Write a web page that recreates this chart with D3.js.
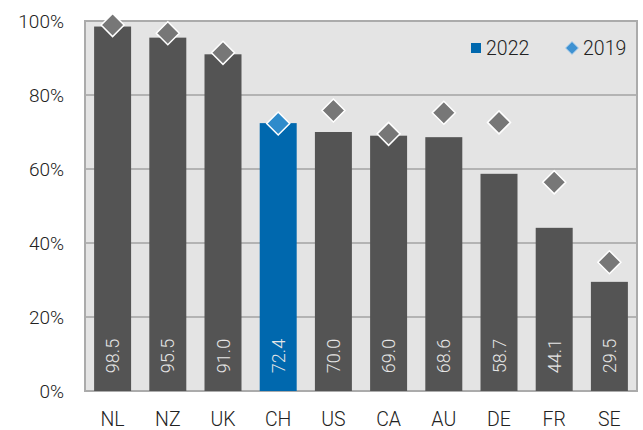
<!DOCTYPE html>
<html><head><meta charset="utf-8">
<script src="https://cdn.jsdelivr.net/npm/d3@7"></script>
<style>
html,body{margin:0;padding:0;background:#fff;}
svg text{font-family:Roboto,"Noto Sans",sans-serif;}
</style></head>
<body><svg id="c" width="643" height="430"></svg>
<script>
const categories = ["NL","NZ","UK","CH","US","CA","AU","DE","FR","SE"];
const values2022 = [98.5,95.5,91.0,72.4,70.0,69.0,68.6,58.7,44.1,29.5];
const values2019 = [98.9,96.7,91.4,72.3,75.8,69.5,75.2,72.6,56.4,34.8];
const highlight = "CH";
const yTicks = [0,20,40,60,80,100];
const seriesNames = ["2022","2019"];

const svg = d3.select("#c");
const L = 85, R = 637, T = 21, B = 391;
const x = d3.scaleBand().domain(categories).range([L,R]).paddingInner(0.33).paddingOuter(0.165);
const y = d3.scaleLinear().domain([0,100]).range([B,T]);

svg.append("rect").attr("x",L).attr("y",T).attr("width",R-L).attr("height",B-T).attr("fill","#e4e4e4");

svg.append("g").selectAll("line").data(yTicks.filter(d=>d>0&&d<100)).join("line")
  .attr("x1",L).attr("x2",R).attr("y1",d=>y(d)).attr("y2",d=>y(d))
  .attr("stroke","#b3b3b3").attr("stroke-width",2);

svg.append("rect").attr("x",L).attr("y",T).attr("width",R-L).attr("height",B-T)
  .attr("fill","none").attr("stroke","#ababab").attr("stroke-width",2);

// bars
svg.append("g").selectAll("rect").data(categories).join("rect")
  .attr("x",d=>x(d)).attr("width",x.bandwidth())
  .attr("y",(d,i)=>y(values2022[i])).attr("height",(d,i)=>y(0)-y(values2022[i]))
  .attr("fill",d=>d===highlight?"#0068ae":"#545454");

// value labels
svg.append("g").selectAll("text").data(categories).join("text")
  .attr("transform",d=>`translate(${x(d)+x.bandwidth()/2+6.5},${y(0)-35}) rotate(-90)`)
  .attr("text-anchor","middle").attr("font-size",18).attr("font-weight",300)
  .attr("fill","#e6e6e6")
  .text((d,i)=>values2022[i].toFixed(1));

// diamonds
const dm = (s)=>`M0,${-s}L${s},0L0,${s}L${-s},0Z`;
svg.append("g").selectAll("path").data(categories).join("path")
  .attr("transform",(d,i)=>`translate(${x(d)+x.bandwidth()/2},${y(values2019[i])})`)
  .attr("d",dm(11.5))
  .attr("fill",d=>d===highlight?"#2e8bcb":"#777777")
  .attr("stroke","#ffffff").attr("stroke-width",1.5);

// y axis labels
svg.append("g").selectAll("text").data(yTicks).join("text")
  .attr("x",64).attr("y",d=>y(d)+7).attr("text-anchor","end")
  .attr("font-size",19).attr("font-weight",300).attr("fill","#222")
  .text(d=>d+"%");

// x labels
svg.append("g").selectAll("text").data(categories).join("text")
  .attr("x",d=>x(d)+x.bandwidth()/2).attr("y",425.5).attr("text-anchor","middle")
  .attr("font-size",19.5).attr("font-weight",300).attr("fill","#222")
  .text(d=>d);

// legend
const lg = svg.append("g");
lg.append("rect").attr("x",471).attr("y",43).attr("width",10).attr("height",10).attr("fill","#0068ae");
lg.append("text").attr("x",486).attr("y",55).attr("font-size",19.5).attr("font-weight",300).attr("fill","#222").text(seriesNames[0]);
lg.append("path").attr("transform","translate(572,48)").attr("d",dm(6.5)).attr("fill","#3f92d2").attr("stroke","#b8d4ec").attr("stroke-width",1);
lg.append("text").attr("x",583).attr("y",55).attr("font-size",19.5).attr("font-weight",300).attr("fill","#222").text(seriesNames[1]);
</script></body></html>
